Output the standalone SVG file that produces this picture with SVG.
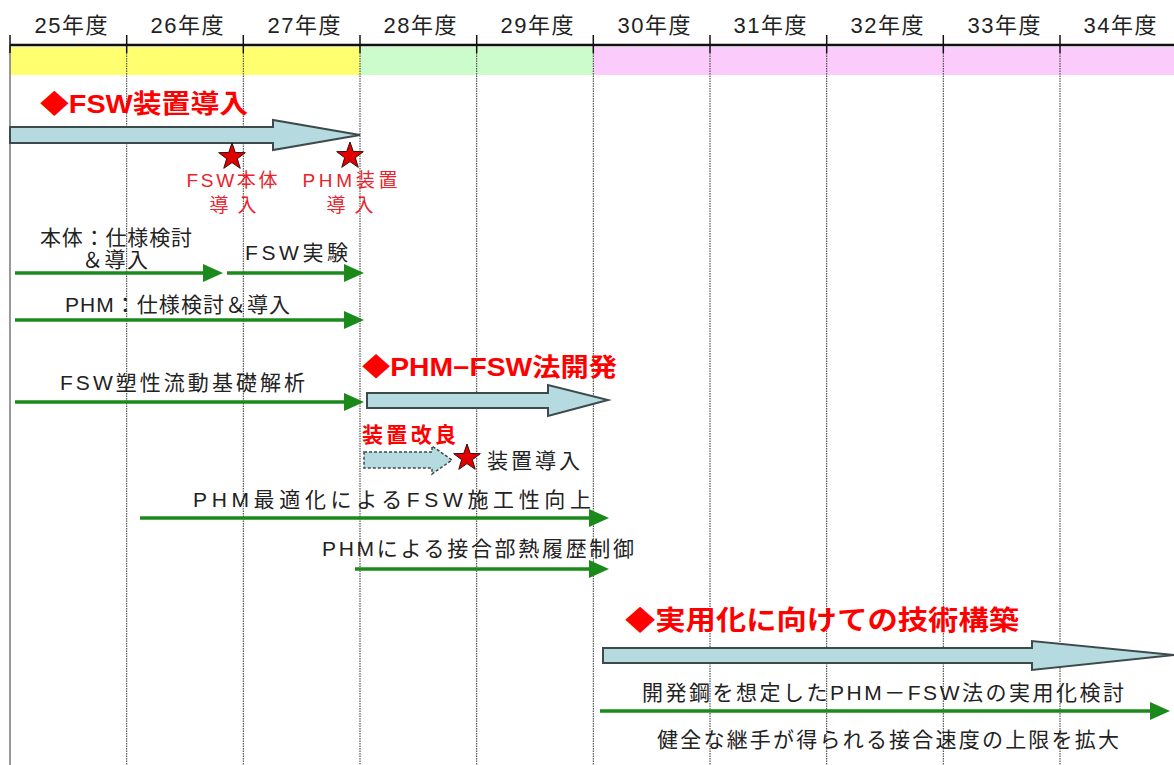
<svg xmlns="http://www.w3.org/2000/svg" width="1174" height="765" viewBox="0 0 1174 765">
<style>
text{font-family:"Liberation Sans","Noto Sans CJK JP",sans-serif;}
.yr{font-size:22px;fill:#222;text-anchor:middle;}
.lbl{font-size:21px;fill:#222;}
.h{font-weight:bold;fill:#f00;}
.rl{font-size:19px;fill:#e8232b;text-anchor:middle;}
.dot{stroke:#333;stroke-width:1;stroke-dasharray:1.5 1;}
.tick{stroke:#111;stroke-width:1.5;}
.big{fill:#b5dbe0;stroke:#3d4a4c;stroke-width:2;stroke-linejoin:miter;}
.g{stroke:#1b8a1b;stroke-width:3.5;fill:none;marker-end:url(#gh);}
</style>
<defs>
<marker id="gh" viewBox="0 0 20 18" markerWidth="20" markerHeight="18" refX="9" refY="9" markerUnits="userSpaceOnUse" orient="auto">
<path d="M0,0 L20,9 L0,18 Z" fill="#1b8a1b"/>
</marker>
<path id="star" d="M0,-14 L3.29,-4.53 L13.31,-4.33 L5.33,1.73 L8.23,11.33 L0,5.6 L-8.23,11.33 L-5.33,1.73 L-13.31,-4.33 L-3.29,-4.53 Z" fill="#e00000" stroke="#3a0a0a" stroke-width="1"/>
</defs>

<g id="timeline">
<rect x="10" y="47" width="350" height="28" fill="#ffff70"/>
<rect x="360" y="47" width="233.3" height="28" fill="#ccfccc"/>
<rect x="593.3" y="47" width="581" height="28" fill="#fbcbfb"/>
<line x1="10" y1="45" x2="1174" y2="45" stroke="#111" stroke-width="2.5"/>
<line x1="10" y1="45" x2="10" y2="765" stroke="#777" stroke-width="1.5"/>
<line class="tick" x1="10" y1="35" x2="10" y2="53"/>
<line class="tick" x1="126.7" y1="35" x2="126.7" y2="53"/>
<line class="tick" x1="243.3" y1="35" x2="243.3" y2="53"/>
<line class="tick" x1="360" y1="35" x2="360" y2="53"/>
<line class="tick" x1="476.7" y1="35" x2="476.7" y2="53"/>
<line class="tick" x1="593.3" y1="35" x2="593.3" y2="53"/>
<line class="tick" x1="710" y1="35" x2="710" y2="53"/>
<line class="tick" x1="826.7" y1="35" x2="826.7" y2="53"/>
<line class="tick" x1="943.3" y1="35" x2="943.3" y2="53"/>
<line class="tick" x1="1060" y1="35" x2="1060" y2="53"/>
<line class="dot" x1="126.7" y1="53" x2="126.7" y2="765"/>
<line class="dot" x1="243.3" y1="53" x2="243.3" y2="765"/>
<line class="dot" x1="360" y1="53" x2="360" y2="765"/>
<line class="dot" x1="476.7" y1="53" x2="476.7" y2="765"/>
<line class="dot" x1="593.3" y1="53" x2="593.3" y2="765"/>
<line class="dot" x1="710" y1="53" x2="710" y2="765"/>
<line class="dot" x1="826.7" y1="53" x2="826.7" y2="765"/>
<line class="dot" x1="943.3" y1="53" x2="943.3" y2="765"/>
<line class="dot" x1="1060" y1="53" x2="1060" y2="765"/>
<text class="yr" x="71" y="33" textLength="73" lengthAdjust="spacing">25年度</text>
<text class="yr" x="187" y="33" textLength="73" lengthAdjust="spacing">26年度</text>
<text class="yr" x="304" y="33" textLength="73" lengthAdjust="spacing">27年度</text>
<text class="yr" x="420" y="33" textLength="73" lengthAdjust="spacing">28年度</text>
<text class="yr" x="537" y="33" textLength="73" lengthAdjust="spacing">29年度</text>
<text class="yr" x="654" y="33" textLength="73" lengthAdjust="spacing">30年度</text>
<text class="yr" x="770" y="33" textLength="73" lengthAdjust="spacing">31年度</text>
<text class="yr" x="887" y="33" textLength="73" lengthAdjust="spacing">32年度</text>
<text class="yr" x="1004" y="33" textLength="73" lengthAdjust="spacing">33年度</text>
<text class="yr" x="1120" y="33" textLength="73" lengthAdjust="spacing">34年度</text>
</g>

<g id="phase1">
<text class="h" x="40" y="113" font-size="26" textLength="208" lengthAdjust="spacingAndGlyphs">◆FSW装置導入</text>
<polygon class="big" points="10,127 273,127 273,120 360,135 273,150 273,143 10,143"/>
</g>

<g id="milestone-fsw">
<use href="#star" x="232" y="157"/>
<text class="rl" x="232" y="187" textLength="91" lengthAdjust="spacing">FSW本体</text>
<text class="rl" x="233" y="212" textLength="47" lengthAdjust="spacing">導入</text>
</g>

<g id="milestone-phm">
<use href="#star" x="350" y="156"/>
<text class="rl" x="350" y="187" textLength="95" lengthAdjust="spacing">PHM装置</text>
<text class="rl" x="350" y="212" textLength="47" lengthAdjust="spacing">導入</text>
</g>

<g id="task-honntai">
<text class="lbl" x="40" y="245" textLength="152" lengthAdjust="spacing">本体：仕様検討</text>
<text class="lbl" x="82" y="267" textLength="66" lengthAdjust="spacing">＆導入</text>
</g>
<g id="task-exp">
<text class="lbl" x="245" y="260" textLength="103" lengthAdjust="spacing">FSW実験</text>
</g>
<g id="task-phm">
<text class="lbl" x="65" y="312" textLength="225" lengthAdjust="spacing">PHM：仕様検討＆導入</text>
</g>
<g id="task-flow">
<text class="lbl" x="60" y="390" textLength="245" lengthAdjust="spacing">FSW塑性流動基礎解析</text>
</g>

<g id="phase2">
<text class="h" x="362" y="376" font-size="25" textLength="255" lengthAdjust="spacingAndGlyphs">◆PHM−FSW法開発</text>
<polygon class="big" points="367,393 548,393 548,385 608,400 548,416 548,408 367,408"/>
</g>

<g id="kairyo">
<text class="h" x="362" y="442" font-size="21" textLength="94" lengthAdjust="spacing">装置改良</text>
<polygon points="364,452 432,452 432,446 452,460 432,474 432,468 364,468" fill="#b5dbe0" stroke="#3d4a4c" stroke-width="1.5" stroke-dasharray="3 2"/>
</g>

<g id="milestone-device">
<use href="#star" x="467" y="458"/>
<text class="lbl" x="487" y="468" textLength="93" lengthAdjust="spacing">装置導入</text>
</g>

<g id="task-opt">
<text class="lbl" x="193" y="507" textLength="398" lengthAdjust="spacing">PHM最適化によるFSW施工性向上</text>
</g>
<g id="task-heat">
<text class="lbl" x="322" y="556" textLength="312" lengthAdjust="spacing">PHMによる接合部熱履歴制御</text>
</g>

<g id="phase3">
<text class="h" x="625" y="630" font-size="27" textLength="394" lengthAdjust="spacingAndGlyphs">◆実用化に向けての技術構築</text>
<polygon class="big" points="603,648 1032,648 1032,641 1174,655 1032,670 1032,663 603,663"/>
</g>

<g id="task-practical">
<text class="lbl" x="642" y="700" textLength="482" lengthAdjust="spacing">開発鋼を想定したPHM－FSW法の実用化検討</text>
<text class="lbl" x="657" y="747" textLength="462" lengthAdjust="spacing">健全な継手が得られる接合速度の上限を拡大</text>
</g>

<g id="connectors">
<line class="g" x1="15" y1="273" x2="212" y2="273"/>
<line class="g" x1="227" y1="273" x2="353" y2="273"/>
<line class="g" x1="15" y1="320" x2="353" y2="320"/>
<line class="g" x1="15" y1="402" x2="353" y2="402"/>
<line class="g" x1="140" y1="518" x2="598" y2="518"/>
<line class="g" x1="355" y1="569" x2="598" y2="569"/>
<line class="g" x1="600" y1="711" x2="1159" y2="711"/>
</g>
</svg>
